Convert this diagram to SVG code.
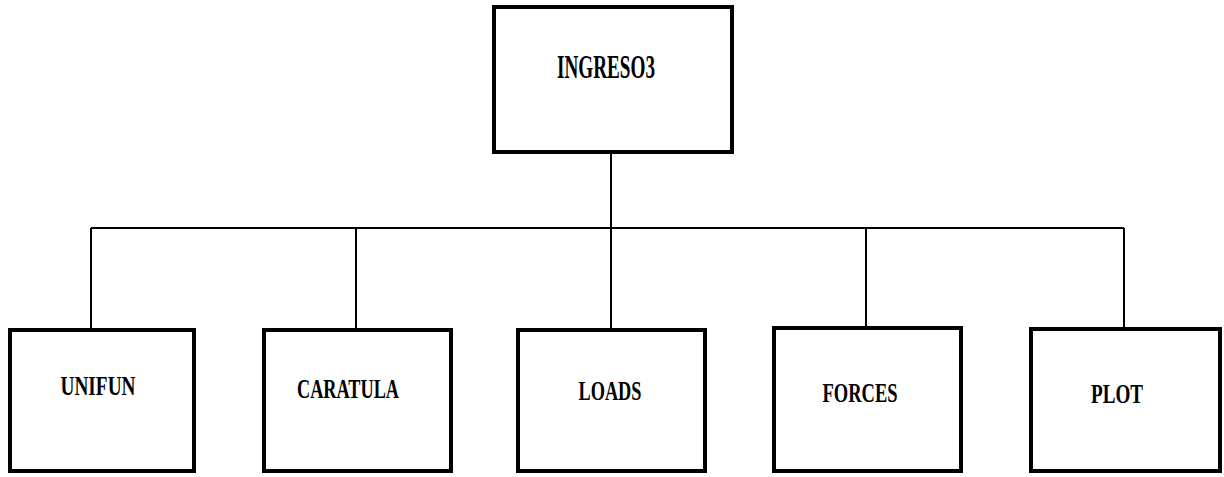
<svg xmlns="http://www.w3.org/2000/svg" width="1224" height="477" viewBox="0 0 1224 477">
  <style>
    .box { fill: #fff; stroke: #000; stroke-width: 4; }
    .wire { fill: none; stroke: #000; stroke-width: 2; }
    .lbl { font-family: "Liberation Serif", "DejaVu Serif", serif; font-weight: bold; fill: #000; text-anchor: middle; }
  </style>
  <rect width="1224" height="477" fill="#fff"/>

  <g id="connectors">
    <path class="wire" d="M611 152 V228"/>
    <path class="wire" d="M91 228 H1124"/>
    <path class="wire" d="M91 228 V330"/>
    <path class="wire" d="M356 228 V330"/>
    <path class="wire" d="M611 228 V330"/>
    <path class="wire" d="M866 228 V328"/>
    <path class="wire" d="M1124 228 V329"/>
  </g>

  <g id="ingreso3">
    <rect class="box" x="494" y="7" width="238" height="145"/>
    <text class="lbl" x="606" y="78" font-size="34" textLength="98" lengthAdjust="spacingAndGlyphs">INGRESO3</text>
  </g>

  <g id="unifun">
    <rect class="box" x="10" y="330" width="184" height="141"/>
    <text class="lbl" x="98" y="395" font-size="27" textLength="75" lengthAdjust="spacingAndGlyphs">UNIFUN</text>
  </g>

  <g id="caratula">
    <rect class="box" x="264" y="330" width="187" height="141"/>
    <text class="lbl" x="348" y="398" font-size="27" textLength="102" lengthAdjust="spacingAndGlyphs">CARATULA</text>
  </g>

  <g id="loads">
    <rect class="box" x="518" y="330" width="187" height="141"/>
    <text class="lbl" x="610" y="400" font-size="27" textLength="63" lengthAdjust="spacingAndGlyphs">LOADS</text>
  </g>

  <g id="forces">
    <rect class="box" x="774" y="328" width="187" height="143"/>
    <text class="lbl" x="860" y="402" font-size="27" textLength="75" lengthAdjust="spacingAndGlyphs">FORCES</text>
  </g>

  <g id="plot">
    <rect class="box" x="1031" y="329" width="189" height="142"/>
    <text class="lbl" x="1117" y="403" font-size="27" textLength="52" lengthAdjust="spacingAndGlyphs">PLOT</text>
  </g>
</svg>
